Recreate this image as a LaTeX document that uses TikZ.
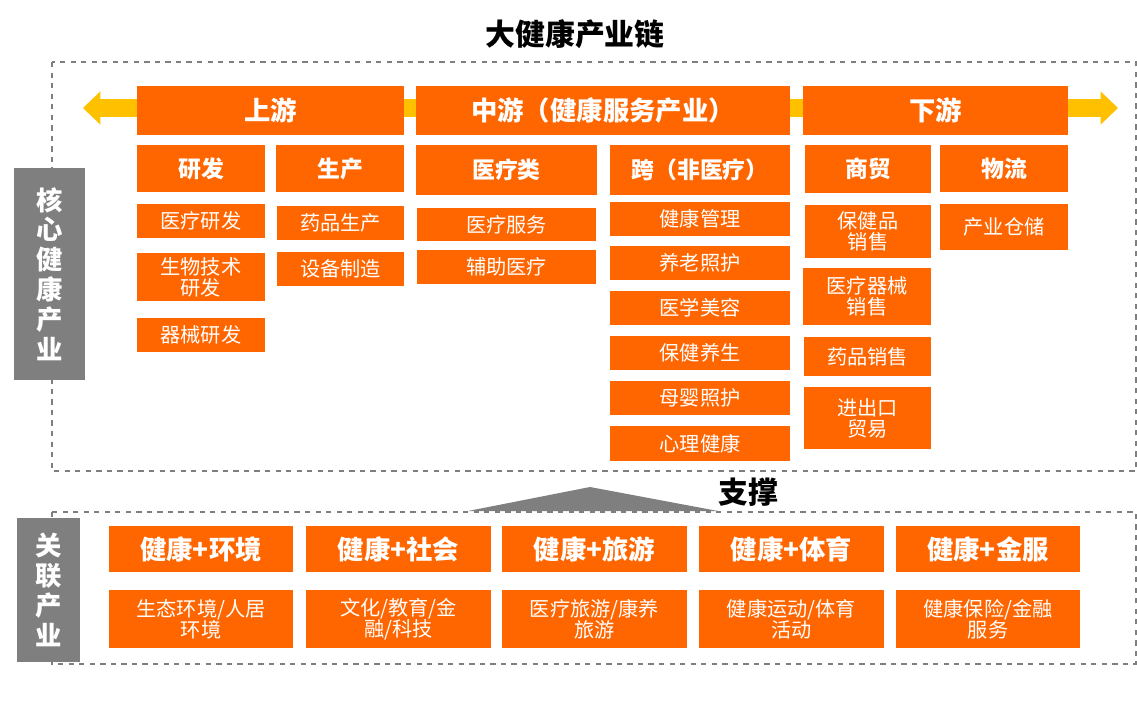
\documentclass[tikz,border=0pt]{standalone}
\usepackage{fontspec}
\newfontfamily\cjk{Noto Sans CJK SC}
\usetikzlibrary{arrows.meta}
\definecolor{orng}{HTML}{FF6600}
\definecolor{ylw}{HTML}{FFC000}
\definecolor{gry}{HTML}{7F7F7F}
\tikzset{
  box/.style={fill=orng, text=white, inner sep=0pt, align=center, font=\cjk\fontsize{11.5}{12}\selectfont},
  head/.style={box, font=\cjk\bfseries\fontsize{15}{16}\selectfont},
  sub/.style={box, font=\cjk\bfseries\fontsize{13}{14}\selectfont},
  side/.style={fill=gry, text=white, inner sep=0pt, align=center, font=\cjk\bfseries\fontsize{15}{17}\selectfont},
  frame/.style={draw=gry, dashed, line width=0.8pt}
}
% box from pixel corners
\newcommand{\bx}[7]{\node[#6, minimum width={(#4-#2)*0.02cm}, minimum height={(#5-#3)*0.02cm}] (#1) at ({(#2+#4)/2},{(#3+#5)/2}) {#7};}
\begin{document}
\begin{tikzpicture}[x=0.02cm, y=-0.02cm]
  \useasboundingbox (0,0) rectangle (1137,704);
  \node[font=\cjk\bfseries\fontsize{17}{18}\selectfont] (title) at (575,34) {大健康产业链};

  \draw[frame] (52,62) rectangle (1136,471);
  \draw[frame] (52,512) rectangle (1136,664);

  \draw[ylw, line width=0.36cm, -{Triangle[length=0.35cm, width=0.65cm]}] (580,108) -- (1118,108);
  \draw[ylw, line width=0.36cm, -{Triangle[length=0.35cm, width=0.65cm]}] (580,108) -- (83,108);

  \bx{core}{14}{168}{85}{380}{side}{核\\心\\健\\康\\产\\业}
  \bx{rel}{17}{518}{80}{662}{side}{关\\联\\产\\业}

  \bx{up}{137}{86}{404}{135}{head}{上游}
  \bx{mid}{416}{86}{790}{135}{head}{中游（健康服务产业）}
  \bx{down}{803}{86}{1068}{135}{head}{下游}

  \bx{rd}{137}{145}{265}{192}{sub}{研发}
  \bx{prod}{276}{145}{404}{192}{sub}{生产}
  \bx{med}{416}{145}{597}{195}{sub}{医疗类}
  \bx{nonmed}{610}{145}{790}{195}{sub}{跨（非医疗）}
  \bx{trade}{805}{145}{931}{193}{sub}{商贸}
  \bx{logi}{940}{145}{1068}{192}{sub}{物流}

  \bx{rd1}{137}{204}{265}{238}{box}{医疗研发}
  \bx{rd2}{137}{253}{265}{301}{box}{生物技术\\研发}
  \bx{rd3}{137}{318}{265}{352}{box}{器械研发}
  \bx{pr1}{277}{206}{404}{240}{box}{药品生产}
  \bx{pr2}{277}{252}{404}{286}{box}{设备制造}
  \bx{md1}{417}{208}{596}{241}{box}{医疗服务}
  \bx{md2}{417}{250}{596}{284}{box}{辅助医疗}
  \bx{nm1}{610}{202}{790}{236}{box}{健康管理}
  \bx{nm2}{610}{246}{790}{280}{box}{养老照护}
  \bx{nm3}{610}{291}{790}{325}{box}{医学美容}
  \bx{nm4}{610}{336}{790}{370}{box}{保健养生}
  \bx{nm5}{610}{381}{790}{415}{box}{母婴照护}
  \bx{nm6}{610}{426}{790}{461}{box}{心理健康}
  \bx{tr1}{805}{205}{931}{258}{box}{保健品\\销售}
  \bx{tr2}{803}{268}{931}{325}{box}{医疗器械\\销售}
  \bx{tr3}{804}{337}{931}{376}{box}{药品销售}
  \bx{tr4}{804}{387}{931}{449}{box}{进出口\\贸易}
  \bx{lg1}{940}{204}{1068}{250}{box}{产业仓储}

  \fill[gry] (590,487) -- (718,511) -- (468,511) -- cycle;
  \node[font=\cjk\bfseries\fontsize{17}{18}\selectfont] (support) at (748,492) {支撑};

  \bx{env}{109}{526}{293}{572}{head}{健康+环境}
  \bx{soc}{306}{526}{491}{572}{head}{健康+社会}
  \bx{tour}{502}{526}{687}{572}{head}{健康+旅游}
  \bx{sport}{699}{526}{884}{572}{head}{健康+体育}
  \bx{fin}{896}{526}{1080}{572}{head}{健康+金服}
  \bx{env1}{109}{590}{293}{648}{box}{生态环境/人居\\环境}
  \bx{soc1}{306}{590}{491}{648}{box}{文化/教育/金\\融/科技}
  \bx{tour1}{502}{590}{687}{648}{box}{医疗旅游/康养\\旅游}
  \bx{sport1}{699}{590}{884}{648}{box}{健康运动/体育\\活动}
  \bx{fin1}{896}{590}{1080}{648}{box}{健康保险/金融\\服务}
\end{tikzpicture}
\end{document}
